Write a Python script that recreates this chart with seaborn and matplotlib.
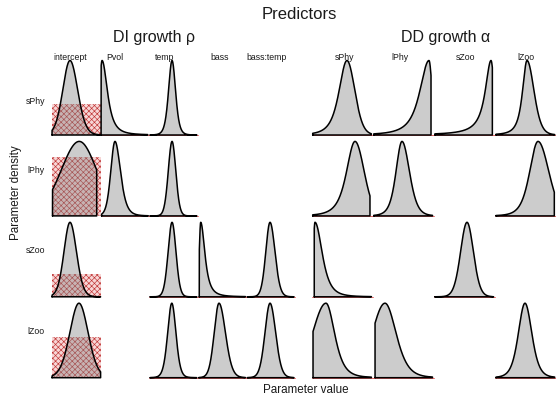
import numpy as np
import matplotlib
matplotlib.use("Agg")
import matplotlib.pyplot as plt
from matplotlib.patches import Rectangle
import seaborn as sns

# ---------------- data ----------------
row_names = ["sPhy", "lPhy", "sZoo", "lZoo"]
col_names = ["intercept", "Pvol", "temp", "bass", "bass:temp",
             "sPhy", "lPhy", "sZoo", "lZoo"]
group_titles = ["DI growth \u03c1", "DD growth \u03b1"]
main_title = "Predictors"
x_label = "Parameter value"
y_label = "Parameter density"

# which panels exist (row index, column index)
panel_row = [0, 0, 0, 0, 0, 0, 0,
             1, 1, 1, 1, 1, 1,
             2, 2, 2, 2, 2, 2,
             3, 3, 3, 3, 3, 3, 3]
panel_col = [0, 1, 2, 5, 6, 7, 8,
             0, 1, 2, 5, 6, 8,
             0, 2, 3, 4, 5, 7,
             0, 2, 3, 4, 5, 6, 8]
# posterior shape (panel-relative parameter scale 0..1)
mode = [0.37, 0.03, 0.47, 0.58, 0.923, 0.938, 0.527,
        0.56, 0.296, 0.47, 0.712, 0.481, 0.707,
        0.37, 0.47, 0.06, 0.486, 0.057, 0.545,
        0.555, 0.465, 0.436, 0.486, 0.237, 0.203, 0.494]
spread_left = [0.15, 0.05, 0.074, 0.136, 0.164, 0.115, 0.08,
               0.38, 0.088, 0.078, 0.147, 0.101, 0.14,
               0.125, 0.082, 0.03, 0.088, 0.03, 0.106,
               0.19, 0.087, 0.10, 0.105, 0.22, 0.21, 0.111]
spread_right = [0.16, 0.12, 0.074, 0.129, 0.05, 0.05, 0.115,
                0.37, 0.117, 0.078, 0.15, 0.124, 0.176,
                0.135, 0.082, 0.093, 0.103, 0.124, 0.106,
                0.19, 0.087, 0.134, 0.117, 0.147, 0.186, 0.115]
tail_left = [20, 20, 6, 3, 2, 1, 2,
             20, 10, 20, 3, 5, 5,
             20, 20, 20, 20, 20, 20,
             20, 10, 20, 20, 20, 20, 6]
tail_right = [20, 2, 6, 20, 20, 20, 10,
              20, 5, 20, 20, 8, 20,
              20, 20, 2, 20, 3, 20,
              20, 10, 20, 20, 4, 6, 6]
lower = [0.0, 0.01, 0.02, 0.02, 0.02, 0.02, 0.02,
         0.01, 0.02, 0.02, 0.02, 0.02, 0.02,
         0.0, 0.02, 0.03, 0.02, 0.045, 0.02,
         0.0, 0.02, 0.02, 0.02, 0.025, 0.04, 0.02]
upper = [1.0, 0.97, 0.98, 0.98, 0.956, 0.96, 0.98,
         0.92, 0.98, 0.98, 0.957, 0.98, 0.974,
         1.0, 0.98, 0.98, 0.98, 0.98, 0.98,
         1.0, 0.98, 0.98, 0.98, 0.98, 0.98, 0.98]
# uniform prior height on intercept (relative to posterior peak), per row
prior_height = [0.42, 0.79, 0.31, 0.55]

# ---------------- layout (pixels) ----------------
W, H = 556, 400
col_left = [52.0, 100.6, 149.2, 197.8, 246.4, 311.5, 372.6, 433.7, 494.8]
col_width = [48.6] * 5 + [61.1] * 4
row_base = [135.0, 215.9, 296.8, 377.7]
panel_h = 78.0
peak_px = 74.5

sns.set_theme(style="white")
plt.rcParams["font.family"] = ["Liberation Sans", "DejaVu Sans"]
plt.rcParams["text.color"] = "#1a1a1a"
plt.rcParams["hatch.linewidth"] = 0.45
plt.rcParams["hatch.color"] = (0.75, 0.2, 0.2)

fig = plt.figure(figsize=(W / 100, H / 100), dpi=100)
fig.patch.set_facecolor("white")

for i in range(len(panel_row)):
    r, c = panel_row[i], panel_col[i]
    ax = fig.add_axes([col_left[c] / W, 1 - row_base[r] / H,
                       col_width[c] / W, panel_h / H])
    a, b, m = lower[i], upper[i], mode[i]
    xs = np.linspace(a, b, 500)
    left = xs < m
    z = np.where(left, (xs - m) / spread_left[i], (xs - m) / spread_right[i])
    nu = np.where(left, tail_left[i], tail_right[i]).astype(float)
    f = (1 + z ** 2 / nu) ** (-(nu + 1) / 2)
    f = f / f.max()
    px = np.concatenate([[a], xs, [b, a]])
    py = np.concatenate([[0], f, [0, 0]])

    if c == 0:
        ax.add_patch(Rectangle((0, 0), 1, prior_height[r],
                               facecolor=(0.97, 0.84, 0.84),
                               edgecolor=(0.75, 0.2, 0.2),
                               hatch="xxxxxx", lw=0, zorder=1))
    else:
        sns.lineplot(x=[0, 1], y=[0, 0], color=(0.88, 0.3, 0.3),
                     lw=0.6, ax=ax, zorder=1)
    ax.fill(px, py, color=(0.5, 0.5, 0.5), alpha=0.4, lw=0, zorder=2)
    sns.lineplot(x=px, y=py, sort=False, estimator=None, color="black",
                 lw=1.1, ax=ax, zorder=3)
    for ln in ax.lines:
        ln.set_clip_on(False)
    ax.set_xlim(0, 1)
    ax.set_ylim(0, panel_h / peak_px)
    ax.axis("off")

# ---------------- text ----------------
def ftext(x, y, s, **kw):
    fig.text(x / W, 1 - y / H, s, **kw)

ftext(299.5, 19.3, main_title, ha="center", va="baseline", fontsize=12)
ftext(154, 41.7, group_titles[0], ha="center", va="baseline", fontsize=11.5)
ftext(446, 41.7, group_titles[1], ha="center", va="baseline", fontsize=11.5)

col_label_x = [70.3, 115, 165, 220, 267, 345, 400, 466, 526]
for name, x in zip(col_names, col_label_x):
    ftext(x, 59.5, name, ha="center", va="baseline", fontsize=6.3)

row_label_y = [101, 170.5, 250.5, 332]
for name, y in zip(row_names, row_label_y):
    ftext(35.5, y, name, ha="center", va="center", fontsize=6.3)

ftext(16.5, 192.5, y_label, ha="center", va="center", rotation=90, fontsize=8.4)
ftext(305.5, 390, x_label, ha="center", va="center", fontsize=8.4)

fig.savefig("out.png", dpi=100, facecolor="white")
